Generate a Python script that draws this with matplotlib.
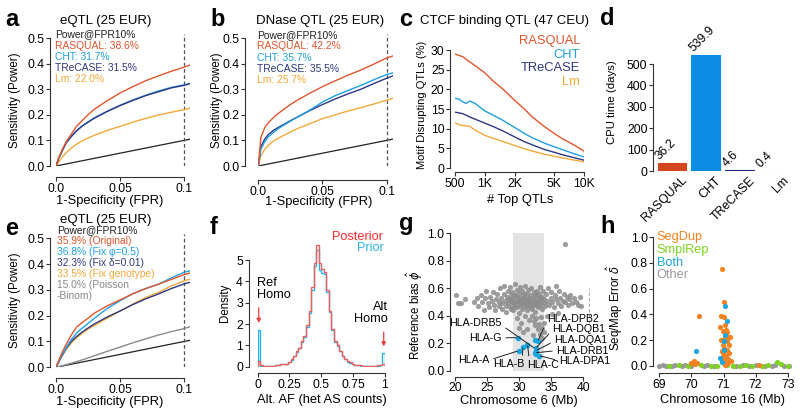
import numpy as np
import matplotlib
matplotlib.use("Agg")
import matplotlib.pyplot as plt

plt.rcParams['font.family'] = ['Liberation Sans', 'DejaVu Sans']
plt.rcParams['mathtext.fontset'] = 'dejavusans'

# ---- colours
C_RAS = '#E2552D'
C_CHT = '#1E9FE6'
C_TRE = '#2F3783'
C_LM = '#F5A83A'

# ---- a: eQTL ROC
fpr = [0, 0.002, 0.005, 0.008, 0.012, 0.016, 0.02, 0.025, 0.03, 0.04, 0.05,
       0.06, 0.07, 0.08, 0.09, 0.1, 0.105]
a_ras = [0, 0.03, 0.065, 0.095, 0.125, 0.155, 0.175, 0.2, 0.222, 0.255, 0.285,
         0.31, 0.333, 0.352, 0.37, 0.386, 0.395]
a_cht = [0, 0.028, 0.06, 0.09, 0.115, 0.138, 0.155, 0.172, 0.188, 0.214, 0.237,
         0.258, 0.276, 0.293, 0.307, 0.317, 0.323]
a_tre = [0, 0.028, 0.062, 0.092, 0.116, 0.137, 0.154, 0.171, 0.187, 0.213, 0.236,
         0.256, 0.275, 0.29, 0.305, 0.315, 0.322]
a_lm = [0, 0.015, 0.035, 0.052, 0.07, 0.085, 0.097, 0.109, 0.12, 0.139, 0.155,
        0.171, 0.186, 0.199, 0.21, 0.22, 0.226]

# ---- b: DNase QTL ROC
b_ras = [0, 0.11, 0.15, 0.17, 0.19, 0.207, 0.222, 0.24, 0.256, 0.284, 0.31,
         0.333, 0.355, 0.375, 0.398, 0.422, 0.43]
b_cht = [0, 0.065, 0.095, 0.115, 0.132, 0.148, 0.16, 0.175, 0.19, 0.218, 0.25,
         0.275, 0.295, 0.315, 0.337, 0.357, 0.364]
b_tre = [0, 0.075, 0.105, 0.124, 0.14, 0.152, 0.163, 0.177, 0.19, 0.216, 0.24,
         0.262, 0.282, 0.3, 0.322, 0.343, 0.352]
b_lm = [0, 0.04, 0.065, 0.082, 0.098, 0.11, 0.12, 0.133, 0.145, 0.165, 0.185,
        0.2, 0.215, 0.228, 0.242, 0.257, 0.265]

# ---- c: CTCF motif disruption
c_n = [500, 550, 600, 650, 700, 800, 1000, 1200, 1500, 2000, 2500, 3000, 4000,
       5000, 6000, 8000, 10000]
c_ras = [29.0, 28.6, 28.3, 27.6, 27.0, 26.0, 24.2, 22.2, 20.2, 17.2, 15.0, 13.0,
         10.5, 8.8, 7.5, 5.8, 4.3]
c_cht = [17.7, 17.5, 16.8, 16.4, 17.0, 16.4, 14.5, 13.5, 12.2, 10.3, 8.8, 7.7,
         6.3, 5.4, 4.7, 3.6, 2.8]
c_tre = [14.2, 14.0, 13.8, 13.4, 13.0, 12.4, 11.4, 10.6, 9.5, 7.9, 6.7, 5.9,
         4.7, 4.0, 3.4, 2.6, 2.0]
c_lm = [11.5, 11.0, 10.8, 10.7, 10.6, 9.6, 8.3, 7.6, 6.8, 5.7, 4.9, 4.3, 3.5,
        3.0, 2.6, 2.0, 1.6]

# ---- d: CPU time
d_names = ['RASQUAL', 'CHT', 'TReCASE', 'Lm']
d_days = [36.2, 539.9, 4.6, 0.4]
d_cols = ['#D2461B', '#0B8DE3', '#1C2B7A', '#F9D29A']

# ---- e: model variants ROC
e_orig = [0, 0.025, 0.06, 0.09, 0.125, 0.155, 0.172, 0.19, 0.21, 0.238, 0.261,
          0.285, 0.305, 0.322, 0.34, 0.359, 0.366]
e_phi = [0, 0.02, 0.05, 0.077, 0.108, 0.132, 0.15, 0.17, 0.19, 0.228, 0.258,
         0.285, 0.305, 0.322, 0.346, 0.368, 0.374]
e_delta = [0, 0.02, 0.048, 0.074, 0.1, 0.119, 0.135, 0.152, 0.168, 0.195, 0.218,
           0.243, 0.265, 0.284, 0.305, 0.323, 0.33]
e_geno = [0, 0.02, 0.045, 0.07, 0.095, 0.114, 0.13, 0.148, 0.162, 0.19, 0.218,
          0.245, 0.27, 0.29, 0.315, 0.335, 0.342]
e_pb = [0, 0.002, 0.006, 0.01, 0.016, 0.022, 0.028, 0.036, 0.045, 0.062, 0.078,
        0.095, 0.11, 0.125, 0.138, 0.15, 0.158]

# ---- f: allele frequency histogram (50 bins of 0.02)
f_edges = np.linspace(0, 1, 51)
f_post = [0.25, 0.08, 0.05, 0.04, 0.04, 0.05, 0.05, 0.07, 0.10, 0.12,
          0.15, 0.15, 0.22, 0.35, 0.50, 0.72, 0.90, 1.20, 1.45, 1.95,
          2.60, 3.75, 4.85, 5.70, 4.85, 4.60, 4.45, 3.60, 2.60, 1.75,
          1.20, 1.00, 0.75, 0.50, 0.38, 0.25, 0.20, 0.12, 0.10, 0.08,
          0.06, 0.05, 0.05, 0.04, 0.04, 0.04, 0.05, 0.06, 0.08, 0.12]
f_prior = [1.70, 0.05, 0.04, 0.04, 0.04, 0.05, 0.05, 0.07, 0.09, 0.11,
           0.14, 0.15, 0.21, 0.33, 0.48, 0.70, 0.88, 1.15, 1.40, 1.85,
           2.50, 3.60, 4.70, 5.45, 4.55, 4.40, 4.35, 3.50, 2.55, 1.70,
           1.15, 0.95, 0.72, 0.48, 0.36, 0.24, 0.19, 0.11, 0.09, 0.07,
           0.05, 0.04, 0.04, 0.03, 0.03, 0.03, 0.04, 0.05, 0.07, 0.62]

# ---- g: reference bias along chr6
g_x = [20.2, 20.4, 20.9, 21.6, 22.9, 23.4, 23.6, 24.0, 24.2, 24.5, 24.7, 24.9,
       25.1, 25.3, 25.5, 25.7, 25.9, 26.1, 26.3, 26.4, 26.6, 26.8, 26.9, 27.0,
       27.2, 27.3, 27.4, 27.6, 27.7, 27.8, 27.9, 28.0, 28.1, 28.2, 28.3, 28.4,
       28.5, 28.6, 28.7, 28.8, 28.9, 29.0, 29.1, 29.2, 29.3, 29.4, 29.5, 29.6,
       29.7, 29.8, 29.9, 30.0, 30.1, 30.2, 30.3, 30.4, 30.5, 30.6, 30.7, 30.8,
       30.9, 31.0, 31.1, 31.2, 31.3, 31.4, 31.5, 31.6, 31.7, 31.8, 31.9, 32.0,
       32.1, 32.2, 32.3, 32.4, 32.5, 32.6, 32.7, 32.8, 32.9, 33.0, 33.1, 33.2,
       33.3, 33.4, 33.5, 33.6, 33.7, 33.8, 33.9, 34.0, 34.2, 34.4, 34.5, 34.7,
       34.9, 35.0, 35.2, 35.4, 35.6, 35.8, 36.0, 36.2, 36.4, 36.6, 36.8, 37.0,
       37.2, 37.4, 37.6, 37.8, 38.0, 38.3, 38.6, 38.9, 39.2, 39.5, 39.7,
       28.6, 29.0, 29.4, 29.8, 30.2, 30.6, 31.0, 31.4, 31.8, 32.2, 32.6, 33.0,
       29.2, 30.0, 30.8, 31.6, 32.4, 33.2, 28.8, 30.4, 31.2, 32.0, 35.7,
       29.6, 30.3, 30.9, 31.5, 32.0, 32.3, 32.5, 32.7, 32.9, 33.1, 33.2, 33.4,
       33.5, 33.6, 33.8, 33.9, 31.2, 30.6, 32.1, 34.3, 35.1, 36.0, 30.0, 37.1]
g_y = [0.55, 0.49, 0.49, 0.52, 0.50, 0.53, 0.47, 0.55, 0.50, 0.44, 0.53, 0.58,
       0.49, 0.46, 0.54, 0.51, 0.57, 0.48, 0.44, 0.52, 0.56, 0.50, 0.47, 0.60,
       0.53, 0.45, 0.49, 0.62, 0.56, 0.51, 0.47, 0.43, 0.54, 0.58, 0.49, 0.52,
       0.61, 0.46, 0.55, 0.50, 0.57, 0.44, 0.52, 0.48, 0.63, 0.55, 0.50, 0.46,
       0.59, 0.53, 0.42, 0.56, 0.49, 0.61, 0.52, 0.45, 0.58, 0.50, 0.54, 0.47,
       0.62, 0.51, 0.56, 0.44, 0.49, 0.59, 0.53, 0.47, 0.55, 0.50, 0.60, 0.45,
       0.53, 0.48, 0.57, 0.51, 0.43, 0.55, 0.49, 0.58, 0.46, 0.52, 0.56, 0.48,
       0.61, 0.50, 0.45, 0.54, 0.58, 0.49, 0.52, 0.47, 0.56, 0.51, 0.60, 0.48,
       0.53, 0.57, 0.50, 0.46, 0.55, 0.52, 0.49, 0.58, 0.53, 0.47, 0.51, 0.56,
       0.50, 0.54, 0.48, 0.52, 0.55, 0.49, 0.53, 0.50, 0.48, 0.54, 0.47,
       0.52, 0.50, 0.47, 0.51, 0.48, 0.53, 0.47, 0.52, 0.46, 0.51, 0.48, 0.50,
       0.55, 0.53, 0.56, 0.51, 0.55, 0.53, 0.45, 0.50, 0.50, 0.49, 0.62,
       0.38, 0.35, 0.40, 0.37, 0.40, 0.36, 0.33, 0.38, 0.30, 0.34, 0.27, 0.39,
       0.31, 0.24, 0.28, 0.35, 0.30, 0.28, 0.26, 0.40, 0.41, 0.42, 0.31, 0.92]
hla_x = [29.8, 29.9, 30.6, 31.2, 31.3, 32.4, 32.9, 32.6, 32.6, 32.5, 32.7, 33.1]
hla_y = [0.24, 0.145, 0.175, 0.185, 0.19, 0.22, 0.215, 0.165, 0.145, 0.13, 0.12, 0.11]

# ---- h: sequencing/mapping error along chr16
h_seg_x = [70.94, 71.0, 70.24, 70.92, 71.0, 70.9, 70.97, 71.08, 71.05, 71.15,
           70.92, 71.11, 70.97, 71.16, 71.03, 71.11, 70.94, 71.18, 71.0, 71.09,
           70.92, 71.15, 71.03, 71.24, 70.95, 71.13, 71.08, 71.2, 71.05, 71.12,
           70.08, 69.98, 70.19, 70.12, 72.1, 71.06, 70.99]
h_seg_y = [0.75, 0.50, 0.385, 0.385, 0.38, 0.30, 0.27, 0.28, 0.227, 0.227,
           0.20, 0.19, 0.163, 0.163, 0.137, 0.124, 0.111, 0.098, 0.085, 0.072,
           0.06, 0.052, 0.041, 0.034, 0.026, 0.021, 0.010, 0.22, 0.32, 0.26,
           0.035, 0.02, 0.02, 0.01, 0.005, 0.005, 0.10]
h_rep_x = [69.3, 69.6, 69.9, 70.3, 70.6, 70.8, 71.1, 71.3, 71.5, 71.7, 71.9,
           72.2, 72.4, 72.68, 72.8, 73.0]
h_rep_y = [0.0, 0.002, 0.0, 0.003, 0.0, 0.0, 0.002, 0.0, 0.0, 0.003, 0.0,
           0.0, 0.002, 0.025, 0.01, 0.0]
h_both_x = [71.05, 71.1, 70.15, 71.05, 71.0, 70.9, 70.95, 71.02]
h_both_y = [0.465, 0.35, 0.115, 0.24, 0.19, 0.06, 0.03, 0.12]
h_oth_x = [69.0, 69.1, 69.2, 69.4, 69.5, 69.7, 69.8, 70.0, 70.4, 70.5, 70.7,
           71.4, 71.6, 71.8, 72.0, 72.3, 72.5, 72.6, 72.9, 73.05]
h_oth_y = [0.0, 0.002, 0.0, 0.0, 0.003, 0.0, 0.002, 0.0, 0.0, 0.002, 0.0,
           0.0, 0.002, 0.0, 0.003, 0.0, 0.0, 0.002, 0.0, 0.0]

W, H = 800, 415
fig = plt.figure(figsize=(8, 4.15), dpi=100)


def add_ax(left, right, top, bottom):
    return fig.add_axes([left / W, 1 - bottom / H, (right - left) / W, (bottom - top) / H])


def ftext(px, py, s, **kw):
    fig.text(px / W, 1 - py / H, s, **kw)


def rstyle(ax, lout, bout, xb=None, yb=None):
    for s in ['top', 'right']:
        ax.spines[s].set_visible(False)
    ax.spines['left'].set_position(('outward', lout * 0.72))
    ax.spines['bottom'].set_position(('outward', bout * 0.72))
    for s in ['left', 'bottom']:
        ax.spines[s].set_linewidth(0.8)
        ax.spines[s].set_color('#333333')
    if xb is not None:
        ax.spines['bottom'].set_bounds(*xb)
    if yb is not None:
        ax.spines['left'].set_bounds(*yb)
    ax.tick_params(length=3, width=0.8, labelsize=8.8, pad=1, color='#333333')


def roc_axes(ax):
    ax.set_xlim(0, 0.105)
    ax.set_ylim(0, 0.52)
    ax.set_xticks([0, 0.05, 0.1], ['0.0', '0.05', '0.1'])
    ax.set_yticks([0, 0.1, 0.2, 0.3, 0.4, 0.5], ['0.0', '0.1', '0.2', '0.3', '0.4', '0.5'])
    ax.plot([0, 0.105], [0, 0.105], color='#222222', lw=0.9)
    ax.plot([0.1, 0.1], [0, 0.515], color='#555555', lw=0.9, ls=(0, (3, 2)))


LW = 1.0
letter = dict(fontsize=17, fontweight='bold', va='baseline', ha='left')

# ===== a
ax = add_ax(56, 190.4, 32.9, 166)
rstyle(ax, 6, 11, (0, 0.1), (0, 0.5))
roc_axes(ax)
ax.plot(fpr, a_lm, color=C_LM, lw=LW)
ax.plot(fpr, a_cht, color=C_CHT, lw=LW)
ax.plot(fpr, a_tre, color=C_TRE, lw=LW)
ax.plot(fpr, a_ras, color=C_RAS, lw=LW)
ftext(5, 26, 'a', **letter)
ftext(106, 21, 'eQTL (25 EUR)', fontsize=9.5, ha='center', va='center')
for i, (s, c) in enumerate([('Power@FPR10%', '#222222'), ('RASQUAL: 38.6%', C_RAS),
                            ('CHT: 31.7%', C_CHT), ('TReCASE: 31.5%', C_TRE),
                            ('Lm: 22.0%', C_LM)]):
    ftext(55, 34.3 + 11.3 * i, s, fontsize=7.4, color=c, va='center')
ftext(15, 100, 'Sensitivity (Power)', fontsize=8.3, rotation=90, ha='center', va='center')
ftext(110, 201, '1-Specificity (FPR)', fontsize=9.3, ha='center', va='center')

# ===== b
ax = add_ax(258.3, 393, 32.9, 166)
rstyle(ax, 13, 14, (0, 0.1), (0, 0.5))
roc_axes(ax)
ax.plot(fpr, b_lm, color=C_LM, lw=LW)
ax.plot(fpr, b_tre, color=C_TRE, lw=LW)
ax.plot(fpr, b_cht, color=C_CHT, lw=LW)
ax.plot(fpr, b_ras, color=C_RAS, lw=LW)
ftext(210, 26, 'b', **letter)
ftext(320, 21, 'DNase QTL (25 EUR)', fontsize=9.5, ha='center', va='center')
for i, (s, c) in enumerate([('Power@FPR10%', '#222222'), ('RASQUAL: 42.2%', C_RAS),
                            ('CHT: 35.7%', C_CHT), ('TReCASE: 35.5%', C_TRE),
                            ('Lm: 25.7%', C_LM)]):
    ftext(256.7, 35 + 11.3 * i, s, fontsize=7.4, color=c, va='center')
ftext(217, 100, 'Sensitivity (Power)', fontsize=8.3, rotation=90, ha='center', va='center')
ftext(319, 202, '1-Specificity (FPR)', fontsize=9.3, ha='center', va='center')

# ===== c
ax = add_ax(455, 584, 50, 168)
rstyle(ax, 5, 4.3, (500, 10000), (0, 30))
ax.set_xscale('log')
ax.set_xlim(500, 10000)
ax.set_ylim(0, 30)
ax.set_xticks([500, 1000, 2000, 5000, 10000], ['500', '1K', '2K', '5K', '10K'])
ax.xaxis.set_minor_locator(matplotlib.ticker.NullLocator())
ax.set_yticks([0, 5, 10, 15, 20, 25, 30])
ax.plot(c_n, c_lm, color=C_LM, lw=LW)
ax.plot(c_n, c_tre, color=C_TRE, lw=LW)
ax.plot(c_n, c_cht, color=C_CHT, lw=LW)
ax.plot(c_n, c_ras, color=C_RAS, lw=LW)
ftext(399, 26, 'c', **letter)
ftext(504, 21, 'CTCF binding QTL (47 CEU)', fontsize=9.5, ha='center', va='center')
for i, (s, c) in enumerate([('RASQUAL', C_RAS), ('CHT', C_CHT), ('TReCASE', C_TRE), ('Lm', C_LM)]):
    ftext(580, 41 + 13.6 * i, s, fontsize=9.3, color=c, ha='right', va='center')
ftext(422, 105, 'Motif Disrupting QTLs (%)', fontsize=8.0, rotation=90, ha='center', va='center')
ftext(520, 200, '# Top QTLs', fontsize=9.3, ha='center', va='center')

# ===== d
ax = add_ax(653, 790, 54.4, 171)
for s in ['top', 'right', 'bottom']:
    ax.spines[s].set_visible(False)
ax.spines['left'].set_linewidth(0.8)
ax.spines['left'].set_color('#333333')
ax.spines['left'].set_bounds(0, 500)
ax.tick_params(axis='y', length=3, width=0.8, labelsize=8.8, pad=1, color='#333333')
ax.set_xlim(-0.56, 3.5)
ax.set_ylim(0, 545)
ax.set_yticks([0, 100, 200, 300, 400, 500])
pos = np.arange(len(d_names))
ax.bar(pos, d_days, width=0.84, color=d_cols, edgecolor=d_cols, linewidth=0.8)
ax.set_xticks([])
for p, v, n in zip(pos, d_days, d_names):
    ax.text(p - 0.3, v + 6, f'{v}', rotation=45, rotation_mode='anchor',
            ha='left', va='bottom', fontsize=8.8)
    ax.text(p + 0.28, -0.03, n, rotation=45, rotation_mode='anchor', ha='right', va='top',
            fontsize=8.8, transform=matplotlib.transforms.blended_transform_factory(ax.transData, ax.transAxes))
ftext(600, 25, 'd', **letter)
ftext(612, 102, 'CPU time (days)', fontsize=8.2, rotation=90, ha='center', va='center')

# ===== e
ax = add_ax(56, 190.4, 233.1, 367.3)
rstyle(ax, 6, 11, (0, 0.1), (0, 0.5))
roc_axes(ax)
ax.plot(fpr, e_pb, color='#8a8a8a', lw=LW)
ax.plot(fpr, e_geno, color=C_LM, lw=LW)
ax.plot(fpr, e_delta, color=C_TRE, lw=LW)
ax.plot(fpr, e_phi, color=C_CHT, lw=LW)
ax.plot(fpr, e_orig, color=C_RAS, lw=LW)
ftext(5, 235, 'e', **letter)
ftext(106, 220, 'eQTL (25 EUR)', fontsize=9.5, ha='center', va='center')
for i, (s, c) in enumerate([('Power@FPR10%', '#222222'), ('35.9% (Original)', C_RAS),
                            ('36.8% (Fix φ=0.5)', C_CHT), ('32.3% (Fix δ=0.01)', C_TRE),
                            ('33.5% (Fix genotype)', C_LM), ('15.0% (Poisson', '#8a8a8a'),
                            ('-Binom)', '#8a8a8a')]):
    ftext(56.7, 230 + 11.0 * i, s, fontsize=7.4, color=c, va='center')
ftext(15, 300, 'Sensitivity (Power)', fontsize=8.3, rotation=90, ha='center', va='center')
ftext(110, 402, '1-Specificity (FPR)', fontsize=9.3, ha='center', va='center')

# ===== f
ax = add_ax(257.5, 385, 243, 366.7)
rstyle(ax, 9, 6.6, (0, 1), (0, 5))
ax.set_xlim(0, 1)
ax.set_ylim(0, 5.8)
ax.set_xticks([0, 0.25, 0.5, 0.75, 1], ['0', '0.25', '0.5', '0.75', '1'])
ax.set_yticks([0, 1, 2, 3, 4, 5])
ax.stairs(f_prior, f_edges, color='#2BB3F0', lw=1.0)
ax.stairs(f_post, f_edges, color='#F0605A', lw=1.0)
arr = dict(arrowstyle='-|>', color='#F03C3C', lw=0.9, mutation_scale=6)
ax.annotate('', xy=(0.01, 1.92), xytext=(0.01, 2.9), arrowprops=arr)
ax.annotate('', xy=(0.99, 0.82), xytext=(0.99, 1.75), arrowprops=arr)
ax.text(0.0, 3.62, 'Ref\nHomo', fontsize=9.2, ha='left', va='center', linespacing=1.0)
ax.text(1.02, 2.5, 'Alt\nHomo', fontsize=9.2, ha='right', va='center', linespacing=1.0)
ftext(210, 234, 'f', **letter)
ftext(383.3, 236.7, 'Posterior', fontsize=9.2, color='#FF2A2A', ha='right', va='center')
ftext(383.3, 247.7, 'Prior', fontsize=9.2, color='#2BB3F0', ha='right', va='center')
ftext(225, 303, 'Density', fontsize=8.3, rotation=90, ha='center', va='center')
ftext(322, 400, 'Alt. AF (het AS counts)', fontsize=9.3, ha='center', va='center')

# ===== g
ax = add_ax(455, 589.7, 233.3, 370.7)
rstyle(ax, 5, 6, (20, 40), (0, 1))
ax.set_xlim(20, 41)
ax.set_ylim(0, 1)
ax.set_xticks([20, 25, 30, 35, 40])
ax.set_yticks([0, 0.2, 0.4, 0.6, 0.8, 1.0], ['0.0', '0.2', '0.4', '0.6', '0.8', '1.0'])
ax.axvspan(29.0, 33.9, color='#e3e3e3', lw=0, zorder=0)
ax.plot([40.9, 40.9], [0.35, 0.6], color='#aaaaaa', lw=0.8, ls=(0, (3, 2)))
ax.scatter(g_x, g_y, s=14, color='#8c8c8c', alpha=0.85, lw=0, zorder=2, clip_on=False)
ax.scatter(hla_x, hla_y, s=16, color='#1AA7E0', lw=0, zorder=4, clip_on=False)
lab = [('HLA-DRB5', 27.3, 0.345, 'right', (32.5, 0.16), (1, 0.3)),
       ('HLA-G', 27.3, 0.24, 'right', (29.8, 0.24), (1, 0.5)),
       ('HLA-A', 25.4, 0.078, 'right', (29.9, 0.145), (1, 0.5)),
       ('HLA-B', 28.4, 0.046, 'center', (30.6, 0.175), (0.92, 0.9)),
       ('HLA-C', 33.7, 0.041, 'center', (31.3, 0.19), (0.08, 0.9)),
       ('HLA-DPB2', 34.3, 0.376, 'left', (32.9, 0.215), (0, 0.3)),
       ('HLA-DQB1', 35.2, 0.303, 'left', (32.6, 0.165), (0, 0.4)),
       ('HLA-DQA1', 35.5, 0.223, 'left', (32.6, 0.145), (0, 0.4)),
       ('HLA-DRB1', 35.8, 0.146, 'left', (32.5, 0.13), (0, 0.5)),
       ('HLA-DPA1', 36.2, 0.073, 'left', (33.1, 0.11), (0, 0.5))]
for s, tx, ty, ha, xy, rp in lab:
    ax.annotate(s, xy=xy, xytext=(tx, ty), ha=ha, va='center', fontsize=7.7,
                annotation_clip=False, zorder=5,
                arrowprops=dict(arrowstyle='-', lw=0.7, color='#222222', relpos=rp,
                                shrinkA=1, shrinkB=1))
ftext(399, 230, 'g', **letter)
ftext(415, 315, r'Reference bias $\hat{\phi}$', fontsize=8.3, rotation=90, ha='center', va='center')
ftext(519, 401, 'Chromosome 6 (Mb)', fontsize=9.3, ha='center', va='center')

# ===== h
ax = add_ax(659.3, 787.7, 237.3, 365.7)
rstyle(ax, 6, 7.6, (69, 73), (0, 1))
ax.set_xlim(69, 73)
ax.set_ylim(0, 1)
ax.set_xticks([69, 70, 71, 72, 73])
ax.set_yticks([0, 0.2, 0.4, 0.6, 0.8, 1.0], ['0.0', '0.2', '0.4', '0.6', '0.8', '1.0'])
ax.scatter(h_oth_x, h_oth_y, s=14, color='#999999', lw=0, clip_on=False, zorder=2)
ax.scatter(h_rep_x, h_rep_y, s=14, color='#7ED321', lw=0, clip_on=False, zorder=3)
ax.scatter(h_seg_x, h_seg_y, s=14, color='#F58220', lw=0, clip_on=False, zorder=4)
ax.scatter(h_both_x, h_both_y, s=14, color='#1AA7E0', lw=0, clip_on=False, zorder=5)
ftext(600, 233, 'h', **letter)
for i, (s, c) in enumerate([('SegDup', '#F58220'), ('SmplRep', '#7ED321'),
                            ('Both', '#1AA7E0'), ('Other', '#999999')]):
    ftext(656.7, 237.3 + 12.6 * i, s, fontsize=9.2, color=c, va='center')
ftext(615, 308, r'Seq/Map Error $\hat{\delta}$', fontsize=8.3, rotation=90, ha='center', va='center')
ftext(722, 400, 'Chromosome 16 (Mb)', fontsize=9.3, ha='center', va='center')

fig.savefig('out.png', dpi=100)
